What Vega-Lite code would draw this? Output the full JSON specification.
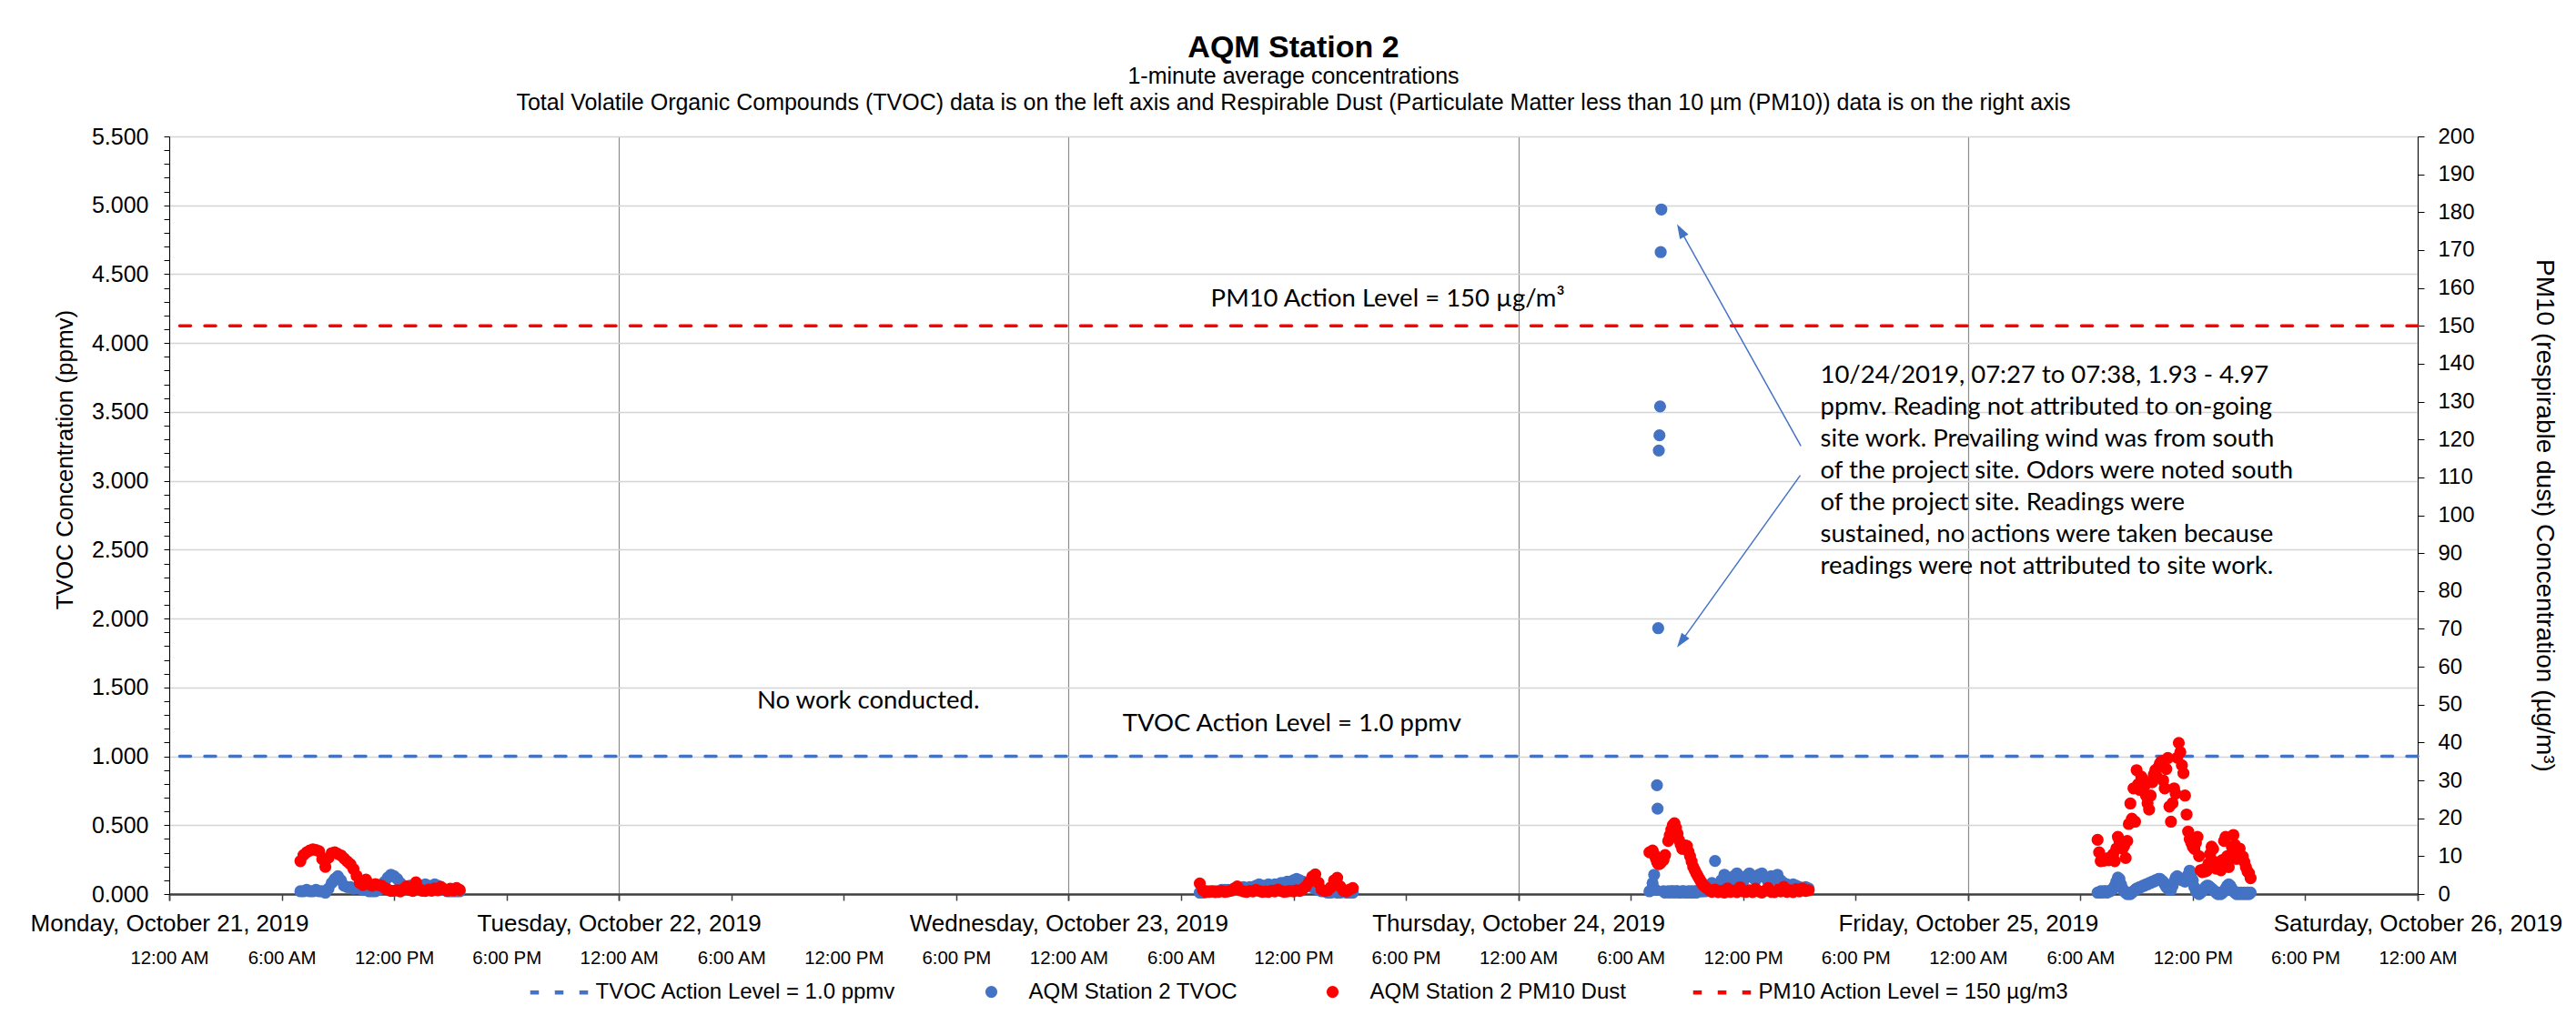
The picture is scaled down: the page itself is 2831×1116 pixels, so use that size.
{
  "$schema": "https://vega.github.io/schema/vega-lite/v6.json",
  "width": 2471,
  "height": 833,
  "autosize": "none",
  "padding": {"left": 186, "top": 150, "right": 174, "bottom": 133},
  "background": "white",
  "config": {
    "view": {"stroke": "black", "strokeWidth": 1},
    "axis": {"labelFont": "Liberation Sans", "titleFont": "Liberation Sans", "labelColor": "black", "titleColor": "black", "titleFontWeight": "normal", "labelFlush": false, "labelLimit": 1000},
    "legend": {"labelLimit": 1000}
  },
  "title": {
    "text": "AQM Station 2",
    "subtitle": ["1-minute average concentrations", "Total Volatile Organic Compounds (TVOC) data is on the left axis and Respirable Dust (Particulate Matter less than 10 µm (PM10)) data is on the right axis"],
    "anchor": "middle",
    "frame": "group",
    "font": "Liberation Sans",
    "fontSize": 34,
    "fontWeight": "bold",
    "color": "black",
    "subtitleFont": "Liberation Sans",
    "subtitleFontSize": 25,
    "subtitleColor": "black",
    "subtitleLineHeight": 29,
    "subtitlePadding": 2,
    "offset": 12
  },
  "datasets": {
    "obs": [
      {"t":"2019-10-21T07:00","tv":0.02,"pm":8.7},{"t":"2019-10-21T07:10","tv":0.02,"pm":10.3},{"t":"2019-10-21T07:20","tv":0.03,"pm":11.0},{"t":"2019-10-21T07:30","tv":0.02,"pm":11.5},{"t":"2019-10-21T07:40","tv":0.02,"pm":11.8},{"t":"2019-10-21T07:50","tv":0.03,"pm":11.6},{"t":"2019-10-21T08:00","tv":0.02,"pm":11.3},{"t":"2019-10-21T08:10","tv":0.02,"pm":9.2},{"t":"2019-10-21T08:20","tv":0.01,"pm":7.2},{"t":"2019-10-21T08:30","tv":0.04,"pm":9.6},{"t":"2019-10-21T08:40","tv":0.08,"pm":10.8},{"t":"2019-10-21T08:50","tv":0.11,"pm":11.0},{"t":"2019-10-21T09:00","tv":0.13,"pm":10.6},{"t":"2019-10-21T09:10","tv":0.10,"pm":10.2},{"t":"2019-10-21T09:20","tv":0.06,"pm":9.4},{"t":"2019-10-21T09:30","tv":0.05,"pm":8.6},{"t":"2019-10-21T09:40","tv":0.05,"pm":7.9},{"t":"2019-10-21T09:50","tv":0.04,"pm":6.6},{"t":"2019-10-21T10:00","tv":0.05,"pm":4.8},{"t":"2019-10-21T10:10","tv":0.04,"pm":3.0},{"t":"2019-10-21T10:20","tv":0.03,"pm":2.4},{"t":"2019-10-21T10:30","tv":0.03,"pm":3.8},{"t":"2019-10-21T10:40","tv":0.02,"pm":2.6},{"t":"2019-10-21T10:50","tv":0.02,"pm":2.2},{"t":"2019-10-21T11:00","tv":0.02,"pm":2.6},{"t":"2019-10-21T11:10","tv":0.03,"pm":2.4},{"t":"2019-10-21T11:20","tv":0.05,"pm":2.2},{"t":"2019-10-21T11:30","tv":0.09,"pm":1.6},{"t":"2019-10-21T11:40","tv":0.12,"pm":1.2},{"t":"2019-10-21T11:50","tv":0.14,"pm":0.8},{"t":"2019-10-21T12:00","tv":0.13,"pm":0.9},{"t":"2019-10-21T12:10","tv":0.11,"pm":1.0},{"t":"2019-10-21T12:20","tv":0.08,"pm":0.7},{"t":"2019-10-21T12:30","tv":0.06,"pm":1.3},{"t":"2019-10-21T12:40","tv":0.05,"pm":2.0},{"t":"2019-10-21T12:50","tv":0.06,"pm":1.1},{"t":"2019-10-21T13:00","tv":0.05,"pm":0.8},{"t":"2019-10-21T13:10","tv":0.04,"pm":3.1},{"t":"2019-10-21T13:20","tv":0.05,"pm":1.4},{"t":"2019-10-21T13:30","tv":0.06,"pm":0.9},{"t":"2019-10-21T13:40","tv":0.07,"pm":0.8},{"t":"2019-10-21T13:50","tv":0.06,"pm":1.2},{"t":"2019-10-21T14:00","tv":0.05,"pm":0.9},{"t":"2019-10-21T14:10","tv":0.07,"pm":1.5},{"t":"2019-10-21T14:20","tv":0.06,"pm":1.0},{"t":"2019-10-21T14:30","tv":0.04,"pm":1.9},{"t":"2019-10-21T14:40","tv":0.03,"pm":1.3},{"t":"2019-10-21T14:50","tv":0.02,"pm":0.9},{"t":"2019-10-21T15:00","tv":0.02,"pm":1.4},{"t":"2019-10-21T15:10","tv":0.02,"pm":1.0},{"t":"2019-10-21T15:20","tv":0.02,"pm":1.6},{"t":"2019-10-21T15:30","tv":0.02,"pm":1.1},
      {"t":"2019-10-23T07:00","tv":0.01,"pm":2.8},{"t":"2019-10-23T07:10","tv":0.01,"pm":1.0},{"t":"2019-10-23T07:20","tv":0.02,"pm":0.5},{"t":"2019-10-23T07:30","tv":0.02,"pm":0.6},{"t":"2019-10-23T07:40","tv":0.02,"pm":0.7},{"t":"2019-10-23T07:50","tv":0.02,"pm":0.5},{"t":"2019-10-23T08:00","tv":0.02,"pm":0.6},{"t":"2019-10-23T08:10","tv":0.03,"pm":0.8},{"t":"2019-10-23T08:20","tv":0.03,"pm":0.6},{"t":"2019-10-23T08:30","tv":0.03,"pm":0.7},{"t":"2019-10-23T08:40","tv":0.03,"pm":0.9},{"t":"2019-10-23T08:50","tv":0.04,"pm":1.4},{"t":"2019-10-23T09:00","tv":0.04,"pm":2.0},{"t":"2019-10-23T09:10","tv":0.04,"pm":1.0},{"t":"2019-10-23T09:20","tv":0.05,"pm":0.7},{"t":"2019-10-23T09:30","tv":0.04,"pm":0.6},{"t":"2019-10-23T09:40","tv":0.05,"pm":0.8},{"t":"2019-10-23T09:50","tv":0.05,"pm":0.7},{"t":"2019-10-23T10:00","tv":0.06,"pm":1.1},{"t":"2019-10-23T10:10","tv":0.07,"pm":0.8},{"t":"2019-10-23T10:20","tv":0.06,"pm":0.6},{"t":"2019-10-23T10:30","tv":0.06,"pm":0.7},{"t":"2019-10-23T10:40","tv":0.07,"pm":0.6},{"t":"2019-10-23T10:50","tv":0.06,"pm":0.9},{"t":"2019-10-23T11:00","tv":0.07,"pm":0.7},{"t":"2019-10-23T11:10","tv":0.07,"pm":1.2},{"t":"2019-10-23T11:20","tv":0.08,"pm":0.8},{"t":"2019-10-23T11:30","tv":0.08,"pm":0.6},{"t":"2019-10-23T11:40","tv":0.09,"pm":0.7},{"t":"2019-10-23T11:50","tv":0.09,"pm":0.8},{"t":"2019-10-23T12:00","tv":0.10,"pm":0.7},{"t":"2019-10-23T12:10","tv":0.11,"pm":1.0},{"t":"2019-10-23T12:20","tv":0.10,"pm":0.8},{"t":"2019-10-23T12:30","tv":0.09,"pm":1.3},{"t":"2019-10-23T12:40","tv":0.08,"pm":2.0},{"t":"2019-10-23T12:50","tv":0.06,"pm":3.2},{"t":"2019-10-23T13:00","tv":0.05,"pm":4.6},{"t":"2019-10-23T13:10","tv":0.04,"pm":5.2},{"t":"2019-10-23T13:20","tv":0.03,"pm":3.0},{"t":"2019-10-23T13:30","tv":0.02,"pm":1.2},{"t":"2019-10-23T13:40","tv":0.02,"pm":0.8},{"t":"2019-10-23T13:50","tv":0.01,"pm":1.0},{"t":"2019-10-23T14:00","tv":0.01,"pm":1.8},{"t":"2019-10-23T14:10","tv":0.02,"pm":3.6},{"t":"2019-10-23T14:20","tv":0.01,"pm":4.3},{"t":"2019-10-23T14:30","tv":0.01,"pm":2.0},{"t":"2019-10-23T14:40","tv":0.02,"pm":0.9},{"t":"2019-10-23T14:50","tv":0.01,"pm":0.7},{"t":"2019-10-23T15:00","tv":0.01,"pm":1.2},{"t":"2019-10-23T15:10","tv":0.01,"pm":1.6},
      {"t":"2019-10-24T07:00","tv":0.02,"pm":11.0},{"t":"2019-10-24T07:10","tv":0.08,"pm":11.5},{"t":"2019-10-24T07:15","tv":0.14,"pm":10.5},{"t":"2019-10-24T07:20","tv":0.03,"pm":9.5},{"t":"2019-10-24T07:24","tv":0.79,"pm":8.6},{"t":"2019-10-24T07:26","tv":0.62,"pm":8.2},{"t":"2019-10-24T07:28","tv":1.93,"pm":8.0},{"t":"2019-10-24T07:30","tv":3.22,"pm":7.9},{"t":"2019-10-24T07:32","tv":3.33,"pm":8.0},{"t":"2019-10-24T07:34","tv":3.54,"pm":8.1},{"t":"2019-10-24T07:36","tv":4.66,"pm":8.3},{"t":"2019-10-24T07:38","tv":4.97,"pm":8.5},{"t":"2019-10-24T07:45","tv":0.02,"pm":9.0},{"t":"2019-10-24T07:50","tv":0.01,"pm":10.3},{"t":"2019-10-24T08:00","tv":0.02,"pm":14.0},{"t":"2019-10-24T08:05","tv":0.01,"pm":15.5},{"t":"2019-10-24T08:10","tv":0.02,"pm":17.0},{"t":"2019-10-24T08:15","tv":0.02,"pm":18.2},{"t":"2019-10-24T08:20","tv":0.01,"pm":18.7},{"t":"2019-10-24T08:25","tv":0.02,"pm":17.5},{"t":"2019-10-24T08:30","tv":0.02,"pm":15.9},{"t":"2019-10-24T08:35","tv":0.01,"pm":14.2},{"t":"2019-10-24T08:40","tv":0.01,"pm":13.0},{"t":"2019-10-24T08:45","tv":0.02,"pm":11.9},{"t":"2019-10-24T08:50","tv":0.02,"pm":12.3},{"t":"2019-10-24T08:55","tv":0.01,"pm":12.8},{"t":"2019-10-24T09:00","tv":0.01,"pm":12.7},{"t":"2019-10-24T09:05","tv":0.02,"pm":11.2},{"t":"2019-10-24T09:10","tv":0.01,"pm":10.0},{"t":"2019-10-24T09:15","tv":0.02,"pm":8.6},{"t":"2019-10-24T09:20","tv":0.01,"pm":7.2},{"t":"2019-10-24T09:25","tv":0.02,"pm":6.3},{"t":"2019-10-24T09:30","tv":0.01,"pm":5.5},{"t":"2019-10-24T09:35","tv":0.02,"pm":4.7},{"t":"2019-10-24T09:40","tv":0.03,"pm":4.0},{"t":"2019-10-24T09:45","tv":0.02,"pm":3.3},{"t":"2019-10-24T09:50","tv":0.02,"pm":2.6},{"t":"2019-10-24T09:55","tv":0.03,"pm":2.1},{"t":"2019-10-24T10:00","tv":0.02,"pm":1.8},{"t":"2019-10-24T10:10","tv":0.04,"pm":1.1},{"t":"2019-10-24T10:20","tv":0.08,"pm":0.6},{"t":"2019-10-24T10:30","tv":0.24,"pm":1.2},{"t":"2019-10-24T10:40","tv":0.06,"pm":0.5},{"t":"2019-10-24T10:50","tv":0.10,"pm":0.8},{"t":"2019-10-24T11:00","tv":0.14,"pm":0.4},{"t":"2019-10-24T11:10","tv":0.12,"pm":1.5},{"t":"2019-10-24T11:20","tv":0.09,"pm":0.6},{"t":"2019-10-24T11:30","tv":0.13,"pm":0.9},{"t":"2019-10-24T11:40","tv":0.15,"pm":0.5},{"t":"2019-10-24T11:50","tv":0.11,"pm":1.8},{"t":"2019-10-24T12:00","tv":0.09,"pm":0.7},{"t":"2019-10-24T12:10","tv":0.13,"pm":0.6},{"t":"2019-10-24T12:20","tv":0.15,"pm":1.0},{"t":"2019-10-24T12:30","tv":0.12,"pm":0.5},{"t":"2019-10-24T12:40","tv":0.10,"pm":1.4},{"t":"2019-10-24T12:50","tv":0.14,"pm":0.7},{"t":"2019-10-24T13:00","tv":0.15,"pm":0.4},{"t":"2019-10-24T13:10","tv":0.12,"pm":0.9},{"t":"2019-10-24T13:20","tv":0.09,"pm":1.6},{"t":"2019-10-24T13:30","tv":0.13,"pm":0.6},{"t":"2019-10-24T13:40","tv":0.11,"pm":0.5},{"t":"2019-10-24T13:50","tv":0.14,"pm":1.1},{"t":"2019-10-24T14:00","tv":0.10,"pm":0.7},{"t":"2019-10-24T14:10","tv":0.08,"pm":1.9},{"t":"2019-10-24T14:20","tv":0.07,"pm":0.6},{"t":"2019-10-24T14:30","tv":0.06,"pm":1.0},{"t":"2019-10-24T14:40","tv":0.07,"pm":0.5},{"t":"2019-10-24T14:50","tv":0.06,"pm":1.3},{"t":"2019-10-24T15:00","tv":0.05,"pm":0.7},{"t":"2019-10-24T15:10","tv":0.04,"pm":1.5},{"t":"2019-10-24T15:20","tv":0.05,"pm":0.8},{"t":"2019-10-24T15:30","tv":0.04,"pm":1.0},
      {"t":"2019-10-25T06:55","tv":0.01,"pm":14.3},{"t":"2019-10-25T07:00","tv":0.01,"pm":11.0},{"t":"2019-10-25T07:05","tv":0.02,"pm":8.7},{"t":"2019-10-25T07:10","tv":0.01,"pm":9.0},{"t":"2019-10-25T07:15","tv":0.02,"pm":8.8},{"t":"2019-10-25T07:20","tv":0.02,"pm":9.3},{"t":"2019-10-25T07:25","tv":0.01,"pm":9.4},{"t":"2019-10-25T07:30","tv":0.02,"pm":8.9},{"t":"2019-10-25T07:35","tv":0.02,"pm":9.6},{"t":"2019-10-25T07:40","tv":0.03,"pm":9.2},{"t":"2019-10-25T07:45","tv":0.04,"pm":10.5},{"t":"2019-10-25T07:50","tv":0.06,"pm":8.7},{"t":"2019-10-25T07:55","tv":0.09,"pm":12.0},{"t":"2019-10-25T08:00","tv":0.12,"pm":15.1},{"t":"2019-10-25T08:05","tv":0.11,"pm":14.0},{"t":"2019-10-25T08:10","tv":0.07,"pm":13.5},{"t":"2019-10-25T08:15","tv":0.04,"pm":12.0},{"t":"2019-10-25T08:20","tv":0.02,"pm":12.7},{"t":"2019-10-25T08:25","tv":0.01,"pm":9.5},{"t":"2019-10-25T08:30","tv":0.00,"pm":14.0},{"t":"2019-10-25T08:35","tv":0.01,"pm":18.5},{"t":"2019-10-25T08:40","tv":0.00,"pm":23.9},{"t":"2019-10-25T08:45","tv":0.01,"pm":19.9},{"t":"2019-10-25T08:50","tv":0.02,"pm":27.9},{"t":"2019-10-25T08:55","tv":0.03,"pm":19.1},{"t":"2019-10-25T09:00","tv":0.04,"pm":32.7},{"t":"2019-10-25T09:05","tv":0.04,"pm":29.0},{"t":"2019-10-25T09:10","tv":0.05,"pm":27.5},{"t":"2019-10-25T09:15","tv":0.05,"pm":31.0},{"t":"2019-10-25T09:20","tv":0.06,"pm":30.3},{"t":"2019-10-25T09:25","tv":0.06,"pm":28.5},{"t":"2019-10-25T09:30","tv":0.07,"pm":26.0},{"t":"2019-10-25T09:35","tv":0.07,"pm":24.0},{"t":"2019-10-25T09:40","tv":0.08,"pm":22.3},{"t":"2019-10-25T09:45","tv":0.08,"pm":26.0},{"t":"2019-10-25T09:50","tv":0.09,"pm":29.5},{"t":"2019-10-25T09:55","tv":0.09,"pm":31.5},{"t":"2019-10-25T10:00","tv":0.10,"pm":32.7},{"t":"2019-10-25T10:05","tv":0.10,"pm":31.0},{"t":"2019-10-25T10:10","tv":0.11,"pm":33.5},{"t":"2019-10-25T10:15","tv":0.11,"pm":34.5},{"t":"2019-10-25T10:20","tv":0.10,"pm":35.1},{"t":"2019-10-25T10:25","tv":0.09,"pm":30.0},{"t":"2019-10-25T10:30","tv":0.07,"pm":27.9},{"t":"2019-10-25T10:35","tv":0.05,"pm":33.0},{"t":"2019-10-25T10:40","tv":0.04,"pm":35.9},{"t":"2019-10-25T10:45","tv":0.03,"pm":23.1},{"t":"2019-10-25T10:50","tv":0.03,"pm":19.1},{"t":"2019-10-25T10:55","tv":0.06,"pm":24.0},{"t":"2019-10-25T11:00","tv":0.09,"pm":27.9},{"t":"2019-10-25T11:05","tv":0.12,"pm":26.5},{"t":"2019-10-25T11:10","tv":0.13,"pm":36.0},{"t":"2019-10-25T11:15","tv":0.12,"pm":39.9},{"t":"2019-10-25T11:20","tv":0.11,"pm":37.5},{"t":"2019-10-25T11:25","tv":0.10,"pm":34.0},{"t":"2019-10-25T11:30","tv":0.10,"pm":31.9},{"t":"2019-10-25T11:35","tv":0.09,"pm":26.0},{"t":"2019-10-25T11:40","tv":0.11,"pm":21.0},{"t":"2019-10-25T11:45","tv":0.14,"pm":16.5},{"t":"2019-10-25T11:50","tv":0.17,"pm":14.5},{"t":"2019-10-25T11:55","tv":0.15,"pm":13.5},{"t":"2019-10-25T12:00","tv":0.10,"pm":12.5},{"t":"2019-10-25T12:05","tv":0.05,"pm":11.9},{"t":"2019-10-25T12:10","tv":0.02,"pm":13.5},{"t":"2019-10-25T12:15","tv":0.01,"pm":15.1},{"t":"2019-10-25T12:20","tv":0.00,"pm":10.0},{"t":"2019-10-25T12:25","tv":0.01,"pm":6.3},{"t":"2019-10-25T12:30","tv":0.02,"pm":5.8},{"t":"2019-10-25T12:35","tv":0.03,"pm":6.5},{"t":"2019-10-25T12:40","tv":0.05,"pm":6.0},{"t":"2019-10-25T12:45","tv":0.06,"pm":6.2},{"t":"2019-10-25T12:50","tv":0.06,"pm":8.0},{"t":"2019-10-25T12:55","tv":0.05,"pm":10.5},{"t":"2019-10-25T13:00","tv":0.04,"pm":12.5},{"t":"2019-10-25T13:05","tv":0.03,"pm":11.9},{"t":"2019-10-25T13:10","tv":0.02,"pm":8.5},{"t":"2019-10-25T13:15","tv":0.01,"pm":6.7},{"t":"2019-10-25T13:20","tv":0.00,"pm":7.5},{"t":"2019-10-25T13:25","tv":0.01,"pm":6.8},{"t":"2019-10-25T13:30","tv":0.00,"pm":6.3},{"t":"2019-10-25T13:35","tv":0.01,"pm":9.0},{"t":"2019-10-25T13:40","tv":0.02,"pm":14.0},{"t":"2019-10-25T13:45","tv":0.04,"pm":15.1},{"t":"2019-10-25T13:50","tv":0.06,"pm":10.0},{"t":"2019-10-25T13:55","tv":0.07,"pm":7.1},{"t":"2019-10-25T14:00","tv":0.06,"pm":9.5},{"t":"2019-10-25T14:05","tv":0.04,"pm":12.5},{"t":"2019-10-25T14:10","tv":0.02,"pm":15.6},{"t":"2019-10-25T14:15","tv":0.01,"pm":13.0},{"t":"2019-10-25T14:20","tv":0.00,"pm":9.3},{"t":"2019-10-25T14:25","tv":0.01,"pm":11.0},{"t":"2019-10-25T14:30","tv":0.00,"pm":12.0},{"t":"2019-10-25T14:35","tv":0.01,"pm":9.5},{"t":"2019-10-25T14:40","tv":0.00,"pm":9.9},{"t":"2019-10-25T14:45","tv":0.01,"pm":8.5},{"t":"2019-10-25T14:50","tv":0.00,"pm":7.1},{"t":"2019-10-25T14:55","tv":0.01,"pm":6.0},{"t":"2019-10-25T15:00","tv":0.00,"pm":5.5},{"t":"2019-10-25T15:05","tv":0.01,"pm":4.2}
    ],
    "levels": [
      {"tvoc_level": 1.0, "pm_level": 150}
    ],
    "arrows": [
      {"t": "2019-10-24T15:05:00", "v": 3.252, "t2": "2019-10-24T08:41:00", "v2": 4.812},
      {"t": "2019-10-24T15:03:00", "v": 3.040, "t2": "2019-10-24T08:43:30", "v2": 1.838}
    ],
    "heads": [
      {"t": "2019-10-24T08:41:00", "v": 4.812, "ang": -29},
      {"t": "2019-10-24T08:43:30", "v": 1.838, "ang": -144.5}
    ],
    "notes_center": [
      {"t": "2019-10-23T11:55:00", "v": 1.232, "txt": "TVOC Action Level = 1.0 ppmv"}
    ],
    "notes_left": [
      {"t": "2019-10-22T07:22:00", "v": 1.398, "txt": "No work conducted."}
    ],
    "block": [
      {"t": "2019-10-24T16:07:00", "v": 3.859, "txt": "10/24/2019, 07:27 to 07:38, 1.93 - 4.97\nppmv. Reading not attributed to on-going\nsite work. Prevailing wind was from south\nof the project site. Odors were noted south\nof the project site. Readings were\nsustained, no actions were taken because\nreadings were not attributed to site work."}
    ],
    "notes_pm": [
      {"t": "2019-10-23T17:02:00", "v": 157.1, "txt": "PM10 Action Level = 150 µg/m³"}
    ]
  },
  "layer": [
    {
      "layer": [
        {
          "data": {"name": "levels"},
          "mark": {"type": "rule", "strokeWidth": 3.5, "strokeDash": [12, 15.5], "strokeCap": "round"},
          "encoding": {
            "y": {"field": "tvoc_level", "type": "quantitative"},
            "color": {"datum": "TVOC Action Level = 1.0 ppmv", "type": "nominal",
              "scale": {"domain": ["TVOC Action Level = 1.0 ppmv", "AQM Station 2 TVOC", "AQM Station 2 PM10 Dust", "PM10 Action Level = 150 µg/m3"], "range": ["#4472C4", "#4472C4", "#FF0000", "#FF0000"]}}
          }
        },
        {
          "data": {"name": "obs"},
          "mark": {"type": "point", "filled": true, "size": 4900, "opacity": 1, "stroke": "#4472C4", "strokeWidth": 4.5},
          "encoding": {
            "x": {"field": "t", "type": "temporal",
              "scale": {"domain": [{"year": 2019, "month": 10, "date": 21, "hours": 0}, {"year": 2019, "month": 10, "date": 26, "hours": 0}]},
              "axis": {"orient": "bottom", "title": null, "format": "%A, %B %-d, %Y",
                "values": [{"year": 2019, "month": 10, "date": 21}, {"year": 2019, "month": 10, "date": 22}, {"year": 2019, "month": 10, "date": 23}, {"year": 2019, "month": 10, "date": 24}, {"year": 2019, "month": 10, "date": 25}, {"year": 2019, "month": 10, "date": 26}],
                "labelFontSize": 26, "labelPadding": 12, "tickSize": 7, "tickColor": "#404040", "tickWidth": 1.5,
                "domainColor": "#404040", "domainWidth": 2.5, "grid": true, "gridColor": "#8c8c8c", "gridWidth": 1.2, "labelOverlap": false, "labelFlush": false}},
            "y": {"field": "tv", "type": "quantitative",
              "scale": {"domain": [0, 5.5], "nice": false, "zero": true},
              "axis": {"orient": "left", "title": "TVOC Concentration (ppmv)", "titleFontSize": 26, "titlePadding": 16, "titleY": 355,
                "tickCount": 1000,
                "values": [0,0.1,0.2,0.3,0.4,0.5,0.6,0.7,0.8,0.9,1,1.1,1.2,1.3,1.4,1.5,1.6,1.7,1.8,1.9,2,2.1,2.2,2.3,2.4,2.5,2.6,2.7,2.8,2.9,3,3.1,3.2,3.3,3.4,3.5,3.6,3.7,3.8,3.9,4,4.1,4.2,4.3,4.4,4.5,4.6,4.7,4.8,4.9,5,5.1,5.2,5.3,5.4,5.5],
                "labelExpr": "abs(datum.value*2 - round(datum.value*2)) < 0.01 ? format(datum.value, '.3f') : ''",
                "labelFontSize": 25, "labelPadding": 17, "tickSize": 6, "tickColor": "black", "domainColor": "black", "domainWidth": 1, "labelOverlap": false,
                "grid": true, "gridColor": "#d4d4d4", "gridWidth": 1.5,
                "gridOpacity": {"condition": {"test": "abs(datum.value*2 - round(datum.value*2)) < 0.01", "value": 1}, "value": 0}}},
            "color": {"datum": "AQM Station 2 TVOC", "type": "nominal",
              "scale": {"domain": ["TVOC Action Level = 1.0 ppmv", "AQM Station 2 TVOC", "AQM Station 2 PM10 Dust", "PM10 Action Level = 150 µg/m3"], "range": ["#4472C4", "#4472C4", "#FF0000", "#FF0000"]},
              "legend": {"orient": "none", "legendX": 390, "legendY": 903, "direction": "horizontal", "title": null, "labelFont": "Liberation Sans", "labelFontSize": 24, "labelColor": "black",
                "symbolSize": 4900, "symbolStrokeWidth": 4.5, "labelOffset": 3.5, "columnPadding": 60, "padding": 0,
                "encode": {"symbols": {
                  "strokeWidth": {"value": 4.5},
                  "strokeCap": {"value": "round"},
                  "opacity": {"value": 1}}}}},
            "shape": {"datum": "AQM Station 2 TVOC", "type": "nominal",
              "scale": {"domain": ["TVOC Action Level = 1.0 ppmv", "AQM Station 2 TVOC", "AQM Station 2 PM10 Dust", "PM10 Action Level = 150 µg/m3"], "range": ["M-1,0M1,0M-0.879,0H-0.607M-0.107,0H0.164M0.664,0H0.936", "M-1,0M1,0M0.125,0A0.125,0.125,0,1,1,-0.125,0A0.125,0.125,0,1,1,0.125,0Z", "M-1,0M1,0M0.125,0A0.125,0.125,0,1,1,-0.125,0A0.125,0.125,0,1,1,0.125,0Z", "M-1,0M1,0M-0.879,0H-0.607M-0.107,0H0.164M0.664,0H0.936"]},
              "legend": {"orient": "none", "legendX": 390, "legendY": 903, "direction": "horizontal", "title": null, "labelFont": "Liberation Sans", "labelFontSize": 24, "labelColor": "black",
                "symbolSize": 4900, "symbolStrokeWidth": 4.5, "labelOffset": 3.5, "columnPadding": 60, "padding": 0,
                "encode": {"symbols": {
                  "strokeWidth": {"value": 4.5},
                  "strokeCap": {"value": "round"},
                  "opacity": {"value": 1}}}}}
          }
        },
        {
          "data": {"name": "arrows"},
          "mark": {"type": "rule", "color": "#4472C4", "strokeWidth": 1.5},
          "encoding": {
            "x": {"field": "t", "type": "temporal"},
            "y": {"field": "v", "type": "quantitative"},
            "x2": {"field": "t2"},
            "y2": {"field": "v2"}
          }
        },
        {
          "data": {"name": "heads"},
          "mark": {"type": "point", "shape": "M0,-1L0.6,0.8L-0.6,0.8Z", "filled": true, "size": 316, "color": "#4472C4", "opacity": 1, "strokeWidth": 0},
          "encoding": {
            "x": {"field": "t", "type": "temporal"},
            "y": {"field": "v", "type": "quantitative"},
            "angle": {"field": "ang", "type": "quantitative", "scale": null}
          }
        },
        {
          "data": {"name": "notes_center"},
          "mark": {"type": "text", "font": "Lato", "fontSize": 27.5, "color": "black", "align": "center", "baseline": "middle"},
          "encoding": {
            "x": {"field": "t", "type": "temporal"},
            "y": {"field": "v", "type": "quantitative"},
            "text": {"field": "txt"}
          }
        },
        {
          "data": {"name": "notes_left"},
          "mark": {"type": "text", "font": "Lato", "fontSize": 27.5, "color": "black", "align": "left", "baseline": "middle"},
          "encoding": {
            "x": {"field": "t", "type": "temporal"},
            "y": {"field": "v", "type": "quantitative"},
            "text": {"field": "txt"}
          }
        },
        {
          "data": {"name": "block"},
          "mark": {"type": "text", "font": "Lato", "fontSize": 27.5, "color": "black", "align": "left", "baseline": "top", "lineBreak": "\n", "lineHeight": 35},
          "encoding": {
            "x": {"field": "t", "type": "temporal"},
            "y": {"field": "v", "type": "quantitative"},
            "text": {"field": "txt"}
          }
        }
      ]
    },
    {
      "layer": [
        {
          "data": {"name": "obs"},
          "mark": {"type": "point", "filled": true, "size": 4900, "opacity": 1, "stroke": "#FF0000", "strokeWidth": 4.5},
          "encoding": {
            "x": {"field": "t", "type": "temporal",
              "axis": {"orient": "bottom", "title": null, "format": "%-I:%M %p",
                "values": [
                  {"year": 2019, "month": 10, "date": 21, "hours": 0}, {"year": 2019, "month": 10, "date": 21, "hours": 6}, {"year": 2019, "month": 10, "date": 21, "hours": 12}, {"year": 2019, "month": 10, "date": 21, "hours": 18},
                  {"year": 2019, "month": 10, "date": 22, "hours": 0}, {"year": 2019, "month": 10, "date": 22, "hours": 6}, {"year": 2019, "month": 10, "date": 22, "hours": 12}, {"year": 2019, "month": 10, "date": 22, "hours": 18},
                  {"year": 2019, "month": 10, "date": 23, "hours": 0}, {"year": 2019, "month": 10, "date": 23, "hours": 6}, {"year": 2019, "month": 10, "date": 23, "hours": 12}, {"year": 2019, "month": 10, "date": 23, "hours": 18},
                  {"year": 2019, "month": 10, "date": 24, "hours": 0}, {"year": 2019, "month": 10, "date": 24, "hours": 6}, {"year": 2019, "month": 10, "date": 24, "hours": 12}, {"year": 2019, "month": 10, "date": 24, "hours": 18},
                  {"year": 2019, "month": 10, "date": 25, "hours": 0}, {"year": 2019, "month": 10, "date": 25, "hours": 6}, {"year": 2019, "month": 10, "date": 25, "hours": 12}, {"year": 2019, "month": 10, "date": 25, "hours": 18},
                  {"year": 2019, "month": 10, "date": 26, "hours": 0}],
                "tickCount": 1000,
                "labelFontSize": 20.4, "labelPadding": 53, "tickSize": 7, "tickColor": "#404040", "tickWidth": 1.5, "domain": false, "grid": false, "labelOverlap": false, "labelFlush": false}},
            "y": {"field": "pm", "type": "quantitative",
              "scale": {"domain": [0, 200], "nice": false, "zero": true},
              "axis": {"orient": "right", "title": "PM10 (respirable dust) Concentration (µg/m³)", "titleFontSize": 28, "titlePadding": 62,
                "tickCount": 1000, "format": "d",
                "values": [0,10,20,30,40,50,60,70,80,90,100,110,120,130,140,150,160,170,180,190,200],
                "labelFontSize": 24, "labelPadding": 15, "tickSize": 7, "tickColor": "black", "domainColor": "black", "domainWidth": 1, "grid": false, "labelOverlap": false}},
            "color": {"datum": "AQM Station 2 PM10 Dust", "type": "nominal"},
            "shape": {"datum": "AQM Station 2 PM10 Dust", "type": "nominal"}
          }
        },
        {
          "data": {"name": "levels"},
          "mark": {"type": "rule", "strokeWidth": 3.5, "strokeDash": [12, 15.5], "strokeCap": "round"},
          "encoding": {
            "y": {"field": "pm_level", "type": "quantitative"},
            "color": {"datum": "PM10 Action Level = 150 µg/m3", "type": "nominal"}
          }
        },
        {
          "data": {"name": "notes_pm"},
          "mark": {"type": "text", "font": "Lato", "fontSize": 27.5, "color": "black", "align": "center", "baseline": "middle"},
          "encoding": {
            "x": {"field": "t", "type": "temporal"},
            "y": {"field": "v", "type": "quantitative"},
            "text": {"field": "txt"}
          }
        }
      ]
    }
  ],
  "resolve": {"scale": {"y": "independent"}, "axis": {"x": "independent"}}
}
